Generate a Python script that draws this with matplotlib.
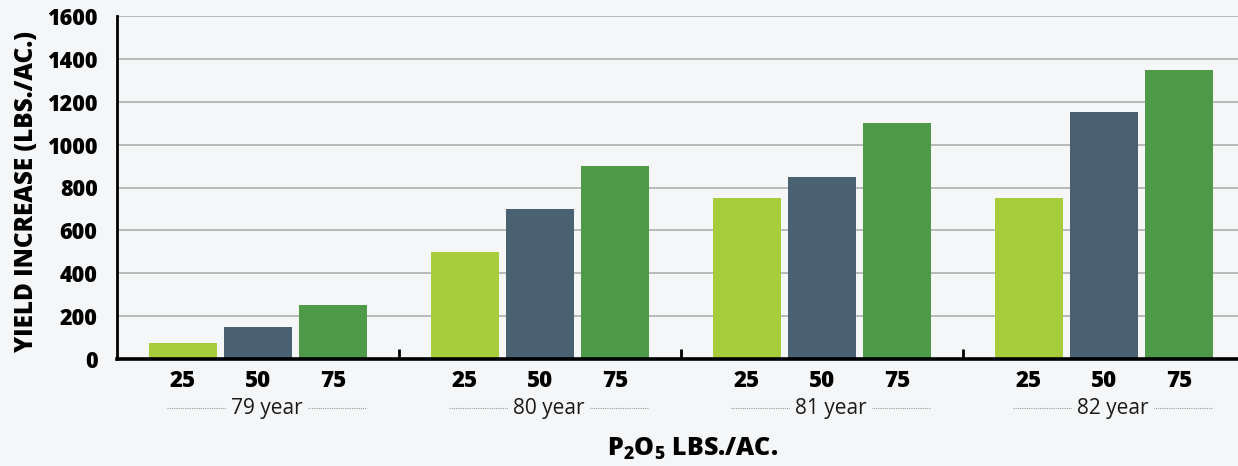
import matplotlib.pyplot as plt
import numpy as np
from matplotlib.transforms import blended_transform_factory

plt.rcParams['font.family'] = ['Open Sans', 'DejaVu Sans']
plt.rcParams['mathtext.fontset'] = 'custom'
plt.rcParams['mathtext.rm'] = 'Open Sans'
plt.rcParams['mathtext.bf'] = 'Open Sans:weight=800'

# yield increase by year and P2O5 rate
years = ['79 year', '80 year', '81 year', '82 year']
rates = ['25', '50', '75']
rate_25 = [75, 500, 750, 750]
rate_50 = [150, 700, 850, 1150]
rate_75 = [250, 900, 1100, 1350]
yticks = [0, 200, 400, 600, 800, 1000, 1200, 1400, 1600]

colors = ['#a7cd3a', '#4a6172', '#4f9a48']
bg = '#f5f6f7'
heavy = 800

fig = plt.figure(figsize=(12.38, 4.66), dpi=100)
fig.patch.set_facecolor(bg)
ax = fig.add_axes([117 / 1238, 107 / 466, 1128 / 1238, 343 / 466])
ax.patch.set_alpha(0)

x = np.arange(len(years))
step = 0.266
width = 0.241
series = [rate_25, rate_50, rate_75]
for i, vals in enumerate(series):
    ax.bar(x + (i - 1) * step, vals, width, color=colors[i], zorder=3)

ax.set_xlim(-0.5, 3.5)
ax.set_ylim(0, 1600)
ax.set_yticks(yticks)
ax.set_yticklabels([str(v) for v in yticks], fontsize=15.5, fontweight=heavy)
ax.yaxis.grid(True, color='#a8a8a8', linewidth=1.1, zorder=0)
ax.tick_params(axis='y', length=0, pad=14)

# bar labels under each bar
pos = np.concatenate([x + (i - 1) * step for i in range(3)])
labs = [r for r in rates for _ in years]
ax.set_xticks(pos)
ax.set_xticklabels(labs, fontsize=16, fontweight=heavy)
ax.tick_params(axis='x', which='major', length=0, pad=7)
ax.set_xticks([0.5, 1.5, 2.5], minor=True)
ax.tick_params(axis='x', which='minor', direction='in', length=7, width=2, color='black')

for s in ['top', 'right']:
    ax.spines[s].set_visible(False)
ax.spines['left'].set_linewidth(2)
ax.spines['bottom'].set_linewidth(2.6)
ax.spines['bottom'].set_zorder(4)

# year captions with dotted rules
trans = blended_transform_factory(ax.transData, ax.transAxes)
for i, yr in enumerate(years):
    x0 = x[i] - 0.323
    x1 = x[i] + 0.3865
    ax.plot([x0, x1], [-0.143, -0.143], transform=trans, clip_on=False,
            color='#9a9a9a', linestyle=(0, (1, 1)), linewidth=0.8)
    ax.text((x0 + x1) / 2, -0.143, yr, transform=trans, ha='center', va='center',
            fontsize=15, color='#1a1a1a',
            bbox=dict(boxstyle='square,pad=0.25', facecolor=bg, edgecolor='none'))

fig.text(27 / 1238, 1 - 192 / 466, 'YIELD INCREASE (LBS./AC.)', rotation=90,
         ha='center', va='center', fontsize=17.5, fontweight=heavy)
fig.text(693 / 1238, 1 - 449 / 466, r'$\mathbf{P_2O_5}$ LBS./AC.', ha='center', va='center',
         fontsize=18, fontweight=heavy)

fig.savefig('out.png', dpi=100, facecolor=bg)
